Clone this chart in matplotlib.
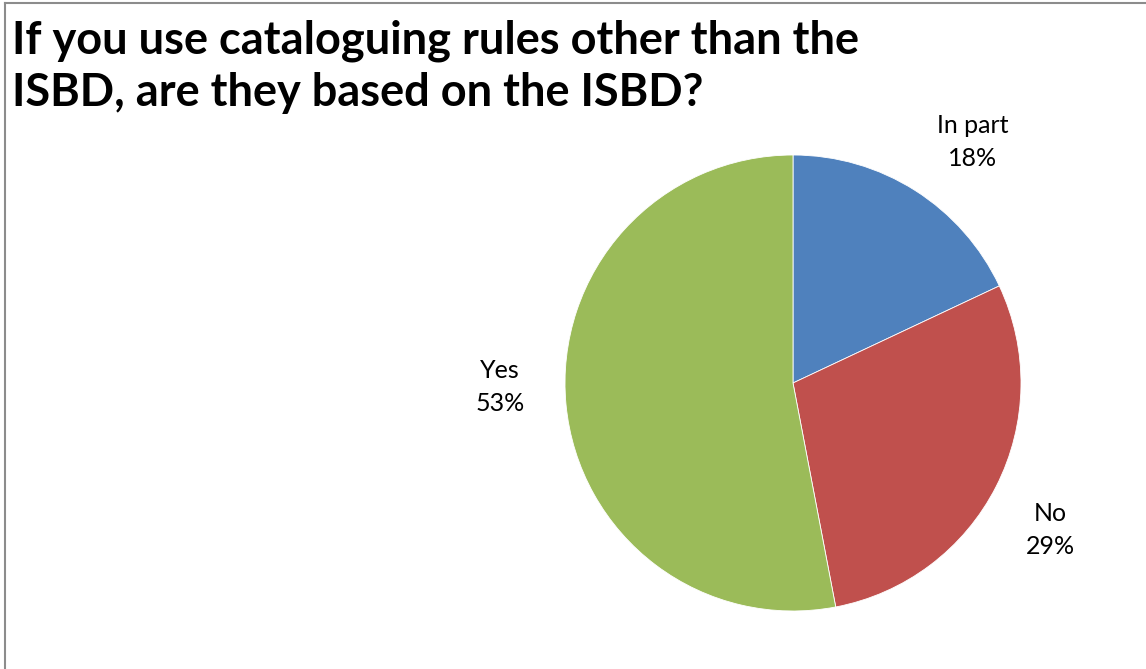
import matplotlib
matplotlib.use("Agg")
import matplotlib.pyplot as plt
from matplotlib.lines import Line2D

categories = ["In part", "No", "Yes"]
values = [18, 29, 53]
colors = ["#4F81BD", "#C0504D", "#9BBB59"]
title = "If you use cataloguing rules other than the\nISBD, are they based on the ISBD?"

W, H = 1146, 669
fig = plt.figure(figsize=(W / 100, H / 100), dpi=100)
ax = fig.add_axes([0, 0, 1, 1])

labels = [f"{c}\n{v}%" for c, v in zip(categories, values)]
wedges, texts = ax.pie(values, colors=colors, startangle=90, counterclock=False,
                       center=(793, H - 383), radius=228, labels=labels,
                       labeldistance=1.3, frame=True,
                       wedgeprops=dict(edgecolor="white", linewidth=0.6),
                       textprops=dict(fontsize=18, family="Lato", color="black",
                                      linespacing=1.5))
label_pos = [(973, 142), (1050, 530), (500, 387)]
for t, (x, y) in zip(texts, label_pos):
    t.set_ha("center")
    t.set_va("center")
    t.set_position((x, H - y))
ax.set_xlim(0, W)
ax.set_ylim(0, H)
ax.set_aspect("equal")
ax.axis("off")

fig.text(12 / W, 1 - 20 / H, title, ha="left", va="top", fontsize=32.5,
         fontweight="bold", family="Lato", color="black", linespacing=1.27)

fig.add_artist(Line2D([5 / W, 5 / W], [0, 1 - 3 / H], transform=fig.transFigure,
                      color="#8C8C8C", linewidth=1.5))
fig.add_artist(Line2D([5 / W, 1], [1 - 3 / H, 1 - 3 / H], transform=fig.transFigure,
                      color="#8C8C8C", linewidth=1.5))

fig.savefig("out.png", dpi=100, facecolor="white")
